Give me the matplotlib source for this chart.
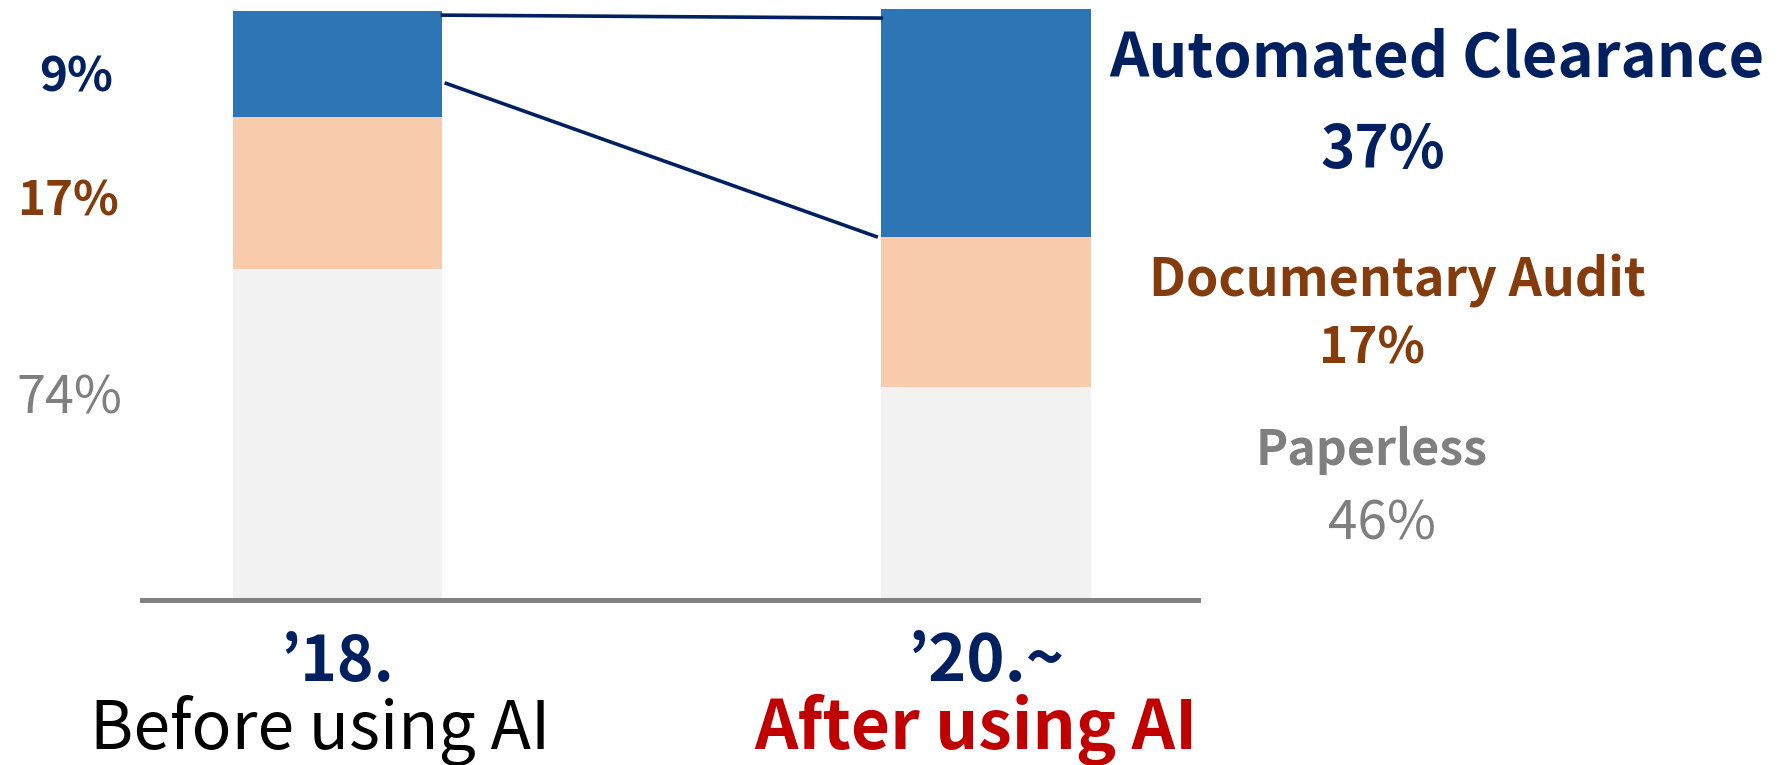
import matplotlib
matplotlib.use('Agg')
import matplotlib.pyplot as plt

plt.rcParams['font.family'] = ['Noto Sans CJK KR', 'DejaVu Sans']

W, H, DPI = 1780, 765, 100

# ---- data ----
categories = ["’18.", "’20.~"]
periods = ["Before using AI", "After using AI"]
series = ["Paperless", "Documentary Audit", "Automated Clearance"]
paperless = [74, 46]
documentary = [17, 17]
automated = [9, 37]
# segment heights as drawn in the original graphic (not to scale with labels)
paperless_drawn = [56.2, 36.2]
documentary_drawn = [25.8, 25.5]
automated_drawn = [18.0, 38.7]

NAVY = '#002060'
BROWN = '#843C0C'
GRAY_T = '#7F7F7F'
RED = '#C00000'
C_AUTO = '#2E75B6'
C_DOC = '#F8CBAD'
C_PAPER = '#F2F2F2'

fig = plt.figure(figsize=(W / DPI, H / DPI), dpi=DPI)
ax = fig.add_axes([142 / W, (H - 600) / H, (1198 - 142) / W, 589 / H])

x = [0, 1]
bw = 0.323
ax.bar(x, paperless_drawn, width=bw, color=C_PAPER, zorder=2)
b2 = [p for p in paperless_drawn]
ax.bar(x, documentary_drawn, width=bw, bottom=b2, color=C_DOC, zorder=2)
b3 = [p + d for p, d in zip(paperless_drawn, documentary_drawn)]
ax.bar(x, automated_drawn, width=bw, bottom=b3, color=C_AUTO, zorder=2, clip_on=False)

ax.set_xlim(-0.302, 1.327)
ax.set_ylim(0, 100)
for s in ['top', 'left', 'right']:
    ax.spines[s].set_visible(False)
ax.spines['bottom'].set_color('#808080')
ax.spines['bottom'].set_linewidth(3.6)
ax.spines['bottom'].set_zorder(3)
ax.set_xticks([])
ax.set_yticks([])

# connector lines
top1 = b3[0] + automated_drawn[0]
top2 = b3[1] + automated_drawn[1]
ax.plot([x[0] + bw / 2, x[1] - bw / 2], [top1 - 0.7, top2 - 1.6],
        color=NAVY, lw=2.6, clip_on=False, zorder=4)
ax.plot([x[0] + bw / 2 + 0.006, x[1] - bw / 2 - 0.008], [top1 - 12.3, b3[1]],
        color=NAVY, lw=2.6, clip_on=False, zorder=4)

fig.canvas.draw()
renderer = fig.canvas.get_renderer()


def put(s, cx, base, width, color, weight='bold'):
    t = fig.text(cx / W, 1 - base / H, s, ha='center', va='baseline',
                 color=color, fontweight=weight, fontsize=30)
    bb = t.get_window_extent(renderer)
    t.set_fontsize(30 * width / bb.width)
    return t


# left labels (before)
put(f"{automated[0]}%", 76, 91, 74, NAVY)
put(f"{documentary[0]}%", 68, 216, 102, BROWN)
put(f"{paperless[0]}%", 69, 414, 106, GRAY_T, 'medium')

# right labels (after)
put(series[2], 1437, 77, 655, NAVY)
put(f"{automated[1]}%", 1383, 168, 125, NAVY)
put(series[1], 1397, 297, 497, BROWN)
put(f"{documentary[1]}%", 1372, 363, 106, BROWN)
put(series[0], 1372, 465, 232, GRAY_T)
put(f"{paperless[1]}%", 1382, 540, 108, GRAY_T, 'medium')

# category labels
put(categories[0], 337, 681, 114, NAVY)
put(periods[0], 320, 749, 460, 'black', 'normal')
put(categories[1], 986, 681, 157, NAVY)
put(periods[1], 976, 749, 443, RED)

fig.savefig('out.png', dpi=DPI)
